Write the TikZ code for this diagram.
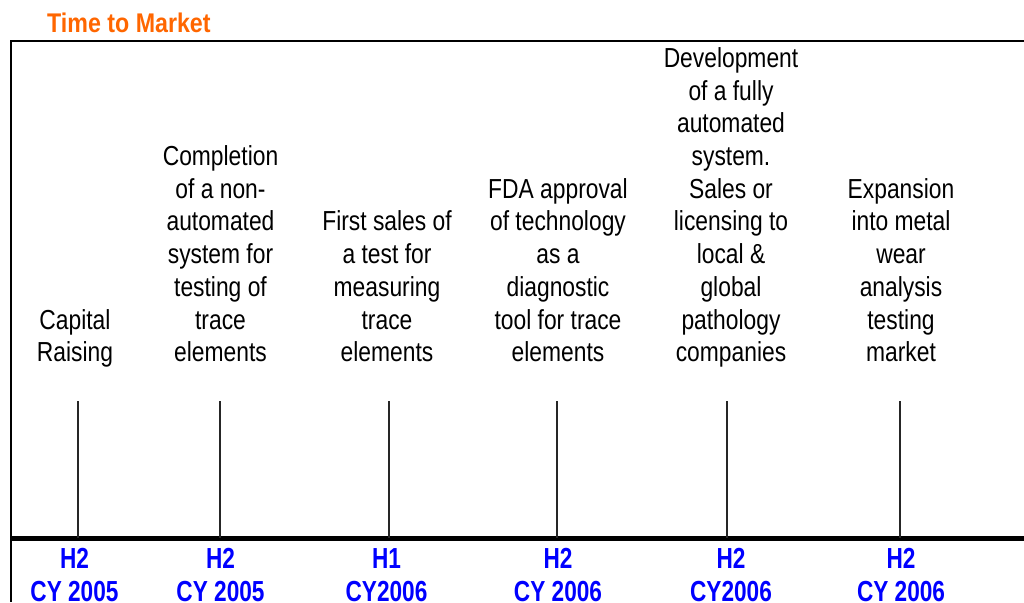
\documentclass[tikz,border=0pt]{standalone}
\usepackage{fontspec}
\setmainfont[FakeStretch=0.83]{Liberation Sans}
\newfontfamily\datefont[FakeStretch=0.78]{Liberation Sans}
\newfontfamily\titlefont[FakeStretch=0.86]{Liberation Sans}
\definecolor{marketorange}{RGB}{255,102,0}
\definecolor{dateblue}{RGB}{0,0,255}

\def\textbase{371.8}
\def\datebase{611.9}
\def\ticktop{401}

\begin{document}
\begin{tikzpicture}[x=1pt, y=-1pt]
		\tikzstyle{frame}
		=[draw=black, line width=2.5pt]
		\tikzstyle{axis}
		=[draw=black, line width=4.6pt]
		\tikzstyle{tick}
		=[draw=black!85, line width=2pt]
		\tikzstyle{event}
		=[anchor=south, align=center, inner sep=0pt,
		font=\fontsize{27.5}{32.7}\selectfont, execute at end node=\strut]
		\tikzstyle{date}
		=[event, text=dateblue, font=\datefont\bfseries\fontsize{29}{33}\selectfont]
		\tikzstyle{title}
		=[anchor=base west, inner sep=0pt, text=marketorange,
		font=\titlefont\bfseries\fontsize{27}{32}\selectfont]
		
		\useasboundingbox (0,0) rectangle (1024,602);
		
		% Title above the box
		\node[title] (title) at (47,33) {Time to Market};
		
		% Draw the frame (top and left side) and the time axis
		\coordinate (frameTR) at (1024,41);
		\coordinate (frameBL) at (11,602);
		\coordinate (axisL) at (11,538.3);
		\coordinate (axisR) at (1024,538.3);
		\draw[frame] (frameTR) -| (frameBL);
		\draw[axis] (axisL) -- (axisR);
		
		% Draw the milestone texts
		\foreach \name / \x / \txt in {
			1/75/{Capital\\Raising},
			2/220.5/{Completion\\of a non-\\automated\\system for\\testing of\\trace\\elements},
			3/387/{First sales of\\a test for\\measuring\\trace\\elements},
			4/558/{FDA approval\\of technology\\as a\\diagnostic\\tool for trace\\elements},
			5/731/{Development\\of a fully\\automated\\system.\\Sales or\\licensing to\\local \&\\global\\pathology\\companies},
			6/901/{Expansion\\into metal\\wear\\analysis\\testing\\market}}
		\node[event] (E-\name) at (\x,\textbase) {\txt};
		
		% Draw the ticks down to the axis
		\foreach \name / \x in {1/78, 2/220, 3/389, 4/557, 5/727, 6/900} {
			\coordinate (T-\name) at (\x,\ticktop);
			\draw[tick] (T-\name) -- (T-\name |- axisL);
		}
		
		% Annotate the dates below the axis
		\foreach \name / \x / \half / \yr in {1/74.5/H2/CY 2005, 2/220.5/H2/CY 2005,
			3/386.5/H1/CY2006, 4/558/H2/CY 2006, 5/731/H2/CY2006, 6/901/H2/CY 2006}
		\node[date] (D-\name) at (\x,\datebase) {\half\\\yr};
	\end{tikzpicture}
\end{document}
